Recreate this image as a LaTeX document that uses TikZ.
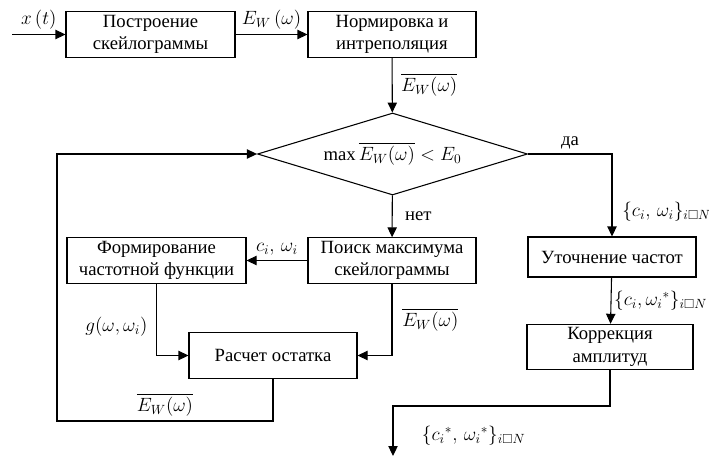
\documentclass[tikz,border=0pt]{standalone}
\usepackage{fontspec}
\usepackage{amssymb}
\setmainfont{Liberation Serif}
\usetikzlibrary{shapes.geometric,arrows.meta}

\newcommand{\Ew}{\overline{E_W(\omega)}}

\begin{document}
\begin{tikzpicture}[x=0.75pt,y=-0.75pt,line width=0.8pt,
	font=\fontsize{14}{17}\selectfont,
	>={Triangle[length=7.5pt,width=7pt]},
	block/.style={draw,align=center,minimum height=34pt,inner sep=2pt},
	decision/.style={draw,diamond,aspect=3.3,inner sep=0pt,
		minimum width=202.5pt,minimum height=61.5pt}]
	% frame of the picture
	\useasboundingbox (0,0) rectangle (709,464);

	% blocks
	\node[block,minimum width=126.75pt] (build) at (150.5,34.5) {Построение\\скейлограммы};
	\node[block,minimum width=126pt] (norm) at (392,34.5) {Нормировка и\\интреполяция};
	\node[decision] (check) at (392.5,154) {$\max\Ew<E_0$};
	\node[block,minimum width=126pt] (search) at (392,260.5) {Поиск максимума\\скейлограммы};
	\node[block,minimum width=134.25pt] (form) at (156.5,260.5) {Формирование\\частотной функции};
	\node[block,minimum width=126pt] (resid) at (273,355.5) {Расчет остатка};
	\node[block,minimum width=126pt,minimum height=30pt] (refine) at (612,257) {Уточнение частот};
	\node[block,minimum width=124.5pt] (corr) at (610,347) {Коррекция\\амплитуд};

	% free ends and corners
	\coordinate (in) at (12,34.5);
	\coordinate (loop) at (57,421);
	\coordinate (turn) at (393,406);
	\coordinate (out) at (393,456);

	% connectors
	\draw[->] (in) -- node[above]{$x\,(t)$} (build);
	\draw[->] (build) -- node[above]{$E_W\,(\omega)$} (norm);
	\draw[->] (norm) -- node[right,xshift=3pt]{$\Ew$} (check);
	\draw[->] (check) -- node[right,xshift=6pt]{нет} (search);
	\draw[->] (check.east) -| node[pos=0.25,above]{да}
		node[pos=0.85,right,xshift=4pt]{$\{c_i,\,\omega_i\}_{i\square N}$} (refine);
	\draw[->] (refine) -- node[right,xshift=1pt,inner sep=1pt]{$\{c_i,\omega_i{}^*\}_{i\square N}$} (corr);
	\draw[->] (search) -- node[above]{$c_i,\,\omega_i$} (form);
	\draw[->] (form) |- node[pos=0.3,left,xshift=-3pt]{$g(\omega,\omega_i)$} (resid);
	\draw[->] (search) |- node[pos=0.25,right,xshift=4pt]{$\Ew$} (resid);
	\draw[->] (resid.south) |- node[pos=0.75,above]{$\Ew$} (loop) |- (check.west);
	\draw[->] (corr.south) |- (turn) -- node[pos=0.6,right,xshift=18pt]{$\{c_i{}^*,\,\omega_i{}^*\}_{i\square N}$} (out);

\end{tikzpicture}
\end{document}
